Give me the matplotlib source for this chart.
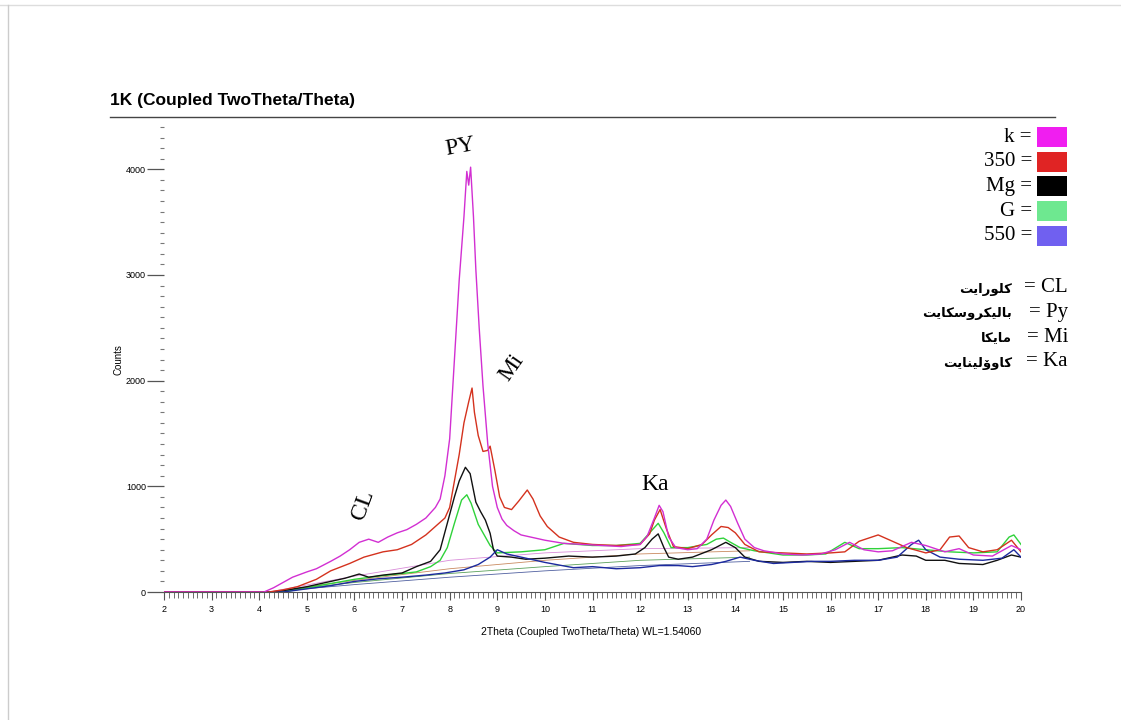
import numpy as np
import matplotlib
matplotlib.use("Agg")
import matplotlib.pyplot as plt
from matplotlib.lines import Line2D
from matplotlib.patches import Rectangle
from matplotlib.ticker import MultipleLocator

# ---- data ----
k_x = [2, 4.1, 4.3, 4.5, 4.7, 5.0, 5.2, 5.5, 5.7, 5.9, 6.1, 6.3, 6.5, 6.7, 6.9, 7.1, 7.3, 7.5,
       7.7, 7.8, 7.9, 8.0, 8.1, 8.2, 8.3, 8.36, 8.4, 8.44, 8.5, 8.55, 8.62, 8.7, 8.8, 8.9, 9.0,
       9.1, 9.2, 9.35, 9.5, 9.7, 10.0, 10.4, 10.8, 11.2, 11.6, 12.0, 12.15, 12.3, 12.4, 12.48,
       12.6, 12.75, 13.0, 13.2, 13.4, 13.55, 13.7, 13.8, 13.9, 14.05, 14.2, 14.4, 14.6, 15.0,
       15.4, 15.8, 16.1, 16.4, 16.7, 17.0, 17.3, 17.7, 18.0, 18.4, 18.7, 19.0, 19.4, 19.8, 20.0]
k_y = [0, 0, 40, 90, 140, 190, 220, 290, 340, 400, 470, 500, 470, 520, 560, 590, 640, 700,
       800, 880, 1100, 1450, 2200, 2950, 3550, 3980, 3850, 4020, 3550, 3050, 2500, 1950, 1400,
       1000, 800, 690, 630, 580, 540, 520, 490, 460, 450, 440, 430, 450, 530, 700, 820, 760,
       520, 420, 400, 410, 500, 680, 820, 870, 810, 650, 500, 420, 390, 360,
       350, 360, 400, 470, 400, 380, 390, 470, 440, 380, 410, 350, 340, 440, 400]

r_x = [2, 4.2, 4.5, 4.8, 5.2, 5.5, 5.9, 6.2, 6.6, 6.9, 7.2, 7.5, 7.7, 7.9, 8.0, 8.1, 8.2, 8.3,
       8.4, 8.47, 8.52, 8.6, 8.7, 8.8, 8.85, 8.95, 9.05, 9.15, 9.3, 9.45, 9.63, 9.75, 9.9, 10.05,
       10.3, 10.6, 11.0, 11.5, 12.0, 12.2, 12.3, 12.42, 12.55, 12.7, 13.0, 13.3, 13.5, 13.7,
       13.85, 14.0, 14.2, 14.5, 15.0, 15.5, 16.0, 16.3, 16.6, 17.0, 17.3, 17.6, 18.0, 18.3,
       18.5, 18.7, 18.9, 19.2, 19.5, 19.8, 20.0]
r_y = [0, 0, 20, 50, 120, 200, 270, 330, 380, 400, 450, 540, 620, 700, 800, 1050, 1300, 1600,
       1800, 1930, 1700, 1480, 1330, 1340, 1380, 1150, 900, 800, 780, 860, 965, 880, 720, 620,
       520, 470, 450, 440, 450, 550, 680, 780, 600, 430, 410, 450, 540, 620,
       610, 560, 450, 380, 370, 360, 370, 380, 480, 540, 480, 420, 370, 400,
       520, 530, 420, 380, 400, 490, 380]

mg_x = [2, 4.3, 4.6, 5.0, 5.4, 5.8, 6.1, 6.3, 6.6, 7.0, 7.3, 7.6, 7.8, 7.95, 8.1, 8.2, 8.33,
        8.43, 8.55, 8.65, 8.75, 8.85, 8.92, 9.0, 9.3, 9.6, 10.0, 10.5, 11.0, 11.5, 11.9, 12.1,
        12.25, 12.38, 12.5, 12.6, 12.8, 13.1, 13.5, 13.8, 14.0, 14.2, 14.5, 15.0, 15.5, 16.0,
        16.5, 17.0, 17.5, 17.8, 18.0, 18.4, 18.7, 19.2, 19.5, 19.8, 20.0]
mg_y = [0, 0, 20, 50, 90, 130, 170, 140, 160, 180, 240, 290, 400, 650, 900, 1050, 1180,
        1120, 850, 760, 680, 555, 400, 340, 330, 310, 320, 340, 330, 340, 360, 420,
        500, 550, 420, 330, 310, 330, 400, 470, 420, 330, 290, 280, 290, 280,
        290, 300, 350, 340, 300, 300, 270, 260, 300, 350, 330]

g_x = [2, 4.4, 4.7, 5.0, 5.5, 6.0, 6.5, 7.0, 7.3, 7.6, 7.8, 7.95, 8.1, 8.25, 8.36, 8.45, 8.6,
       8.75, 8.85, 9.0, 9.5, 10.0, 10.4, 11.0, 11.5, 12.0, 12.2, 12.38, 12.5, 12.65, 13.0, 13.4,
       13.6, 13.75, 13.9, 14.1, 14.4, 15.0, 15.5, 15.9, 16.3, 16.6, 17.0, 17.5, 18.0, 18.5,
       19.0, 19.5, 19.75, 19.85, 20.0]
g_y = [0, 0, 15, 40, 80, 120, 150, 175, 190, 240, 300, 420, 650, 870, 920, 840, 640,
       520, 440, 370, 380, 400, 460, 440, 440, 460, 560, 650, 560, 420, 420, 450,
       500, 510, 470, 420, 390, 350, 350, 360, 470, 410, 410, 420, 400, 380,
       370, 380, 520, 540, 450]

b_x = [2, 4.5, 5.0, 5.5, 6.0, 6.5, 7.0, 7.5, 7.9, 8.3, 8.6, 8.85, 9.0, 9.2, 9.5, 10.0, 10.3,
       10.6, 11.0, 11.5, 12.0, 12.4, 12.8, 13.1, 13.5, 13.8, 14.1, 14.4, 14.8, 15.2, 15.6, 16.0,
       16.5, 17.0, 17.4, 17.7, 17.85, 18.0, 18.3, 18.7, 19.2, 19.6, 19.85, 20.0]
b_y = [0, 0, 30, 60, 100, 125, 140, 160, 180, 210, 260, 330, 400, 360, 330, 280, 255,
       230, 240, 220, 230, 250, 250, 240, 260, 290, 330, 300, 270, 280, 290, 290,
       300, 300, 330, 450, 490, 400, 330, 310, 300, 320, 400, 330]

# fitted background lines (thin)
bg_x = [4.2, 6.0, 8.0, 10.0, 12.0, 14.3]
bg_k = [0, 150, 300, 370, 410, 420]
bg_r = [0, 110, 220, 300, 360, 390]
bg_g = [0, 90, 175, 240, 300, 330]
bg_b = [0, 70, 140, 200, 250, 290]

series_names = ["k", "350", "Mg", "G", "550"]
line_colors = ["#d22fd2", "#d4321e", "#111111", "#2fd23a", "#1c2a9e"]
legend_colors = ["#f01ef0", "#e02424", "#000000", "#6ee890", "#7060f0"]

mineral_codes = ["CL", "Py", "Mi", "Ka"]
mineral_names = ["كلورايت", "باليكروسكايت", "مايكا", "كاوۆلينايت"]

# ---- crude arabic shaping: presentation forms, visual order ----
FORMS = {
    "ا": ("\uFE8D", "\uFE8E", None, None),
    "ب": ("\uFE8F", "\uFE90", "\uFE91", "\uFE92"),
    "ت": ("\uFE95", "\uFE96", "\uFE97", "\uFE98"),
    "ر": ("\uFEAD", "\uFEAE", None, None),
    "س": ("\uFEB1", "\uFEB2", "\uFEB3", "\uFEB4"),
    "ك": ("\uFED9", "\uFEDA", "\uFEDB", "\uFEDC"),
    "ل": ("\uFEDD", "\uFEDE", "\uFEDF", "\uFEE0"),
    "م": ("\uFEE1", "\uFEE2", "\uFEE3", "\uFEE4"),
    "ن": ("\uFEE5", "\uFEE6", "\uFEE7", "\uFEE8"),
    "و": ("\uFEED", "\uFEEE", None, None),
    "ۆ": ("\uFBD9", "\uFBDA", None, None),
    "ي": ("\uFEF1", "\uFEF2", "\uFEF3", "\uFEF4"),
}


def shape(word):
    out = []
    for i, ch in enumerate(word):
        iso, fin, ini, med = FORMS[ch]
        prev_joins = i > 0 and FORMS[word[i - 1]][2] is not None
        has_next = i < len(word) - 1
        if prev_joins and has_next and med:
            out.append(med)
        elif prev_joins:
            out.append(fin)
        elif has_next and ini:
            out.append(ini)
        else:
            out.append(iso)
    return "".join(reversed(out))


W, H = 1121, 720


def fx(px):
    return px / W


def fy(py):
    return 1 - py / H


plt.rcParams["font.family"] = ["Liberation Sans", "DejaVu Sans"]
fig = plt.figure(figsize=(W / 100, H / 100), dpi=100)
ax = fig.add_axes([fx(164), fy(592), fx(1021) - fx(164), fy(127) - fy(592)])

# thin background fits
for bg, c in zip([bg_k, bg_r, bg_g, bg_b], ["#d98cd9", "#c98a60", "#5aa05a", "#5060a0"]):
    ax.plot(bg_x, bg, color=c, lw=0.6)

ax.plot(g_x, g_y, color=line_colors[3], lw=1.0)
ax.plot(mg_x, mg_y, color=line_colors[2], lw=1.0)
ax.plot(b_x, b_y, color=line_colors[4], lw=1.0)
ax.plot(r_x, r_y, color=line_colors[1], lw=1.0)
ax.plot(k_x, k_y, color=line_colors[0], lw=1.0)

ax.set_xlim(2, 20)
ax.set_ylim(0, 4400)
for s in ["top", "right", "left"]:
    ax.spines[s].set_visible(False)
ax.spines["bottom"].set_color("#555555")
ax.xaxis.set_major_locator(MultipleLocator(1))
ax.xaxis.set_minor_locator(MultipleLocator(0.1))
ax.yaxis.set_major_locator(MultipleLocator(1000))
ax.yaxis.set_minor_locator(MultipleLocator(100))
ax.tick_params(axis="x", which="major", length=6, width=0.8, labelsize=6.5, color="#555555", pad=3)
ax.tick_params(axis="x", which="minor", length=4, width=0.6, color="#555555")
ax.tick_params(axis="y", which="major", length=12, width=0.9, labelsize=6.5, color="#555555", pad=1)
ax.tick_params(axis="y", which="minor", length=3, width=0.8, color="#777777")

# peak labels
ser = dict(family=["Liberation Serif", "DejaVu Serif"], fontsize=17, ha="center", va="center")
ax.text(8.22, 4210, "PY", rotation=10, **ser)
ax.text(9.31, 2120, "Mi", rotation=55, **ser)
ax.text(6.18, 823, "CL", rotation=70, **ser)
ax.text(12.32, 1020, "Ka", rotation=0, **ser)

# title and axis texts
fig.text(fx(110), fy(101), "1K (Coupled TwoTheta/Theta)", fontsize=12.5, fontweight="bold",
         ha="left", va="center")
fig.add_artist(Line2D([fx(110), fx(1055)], [fy(117), fy(117)], color="#444444", lw=1))
fig.text(fx(118), fy(360), "Counts", rotation=90, fontsize=7, ha="center", va="center")
fig.text(fx(591), fy(632), "2Theta (Coupled TwoTheta/Theta) WL=1.54060", fontsize=7.5,
         ha="center", va="center")

# page border lines
fig.add_artist(Line2D([0, 1], [fy(5), fy(5)], color="#dddddd", lw=1))
fig.add_artist(Line2D([fx(8), fx(8)], [fy(5), 0], color="#cccccc", lw=1))

# legend
row_y = [137, 162, 186, 211, 236]
for name, col, y in zip(series_names, legend_colors, row_y):
    fig.text(fx(1032), fy(y), name + " =", family=["Liberation Serif"], fontsize=15,
             ha="right", va="center")
    fig.add_artist(Rectangle((fx(1037), fy(y + 10)), fx(30), 20 / H, transform=fig.transFigure,
                             facecolor=col, edgecolor="none"))

mrow_y = [288, 312, 337, 362]
for code, name, y in zip(mineral_codes, mineral_names, mrow_y):
    fig.text(fx(1068), fy(y), "= " + code, family=["Liberation Serif"], fontsize=15,
             ha="right", va="center")
    fig.text(fx(1012), fy(y + 1), shape(name), family=["DejaVu Sans"], fontsize=9.5,
             fontweight="bold", ha="right", va="center")

fig.savefig("out.png", dpi=100, facecolor="white")
